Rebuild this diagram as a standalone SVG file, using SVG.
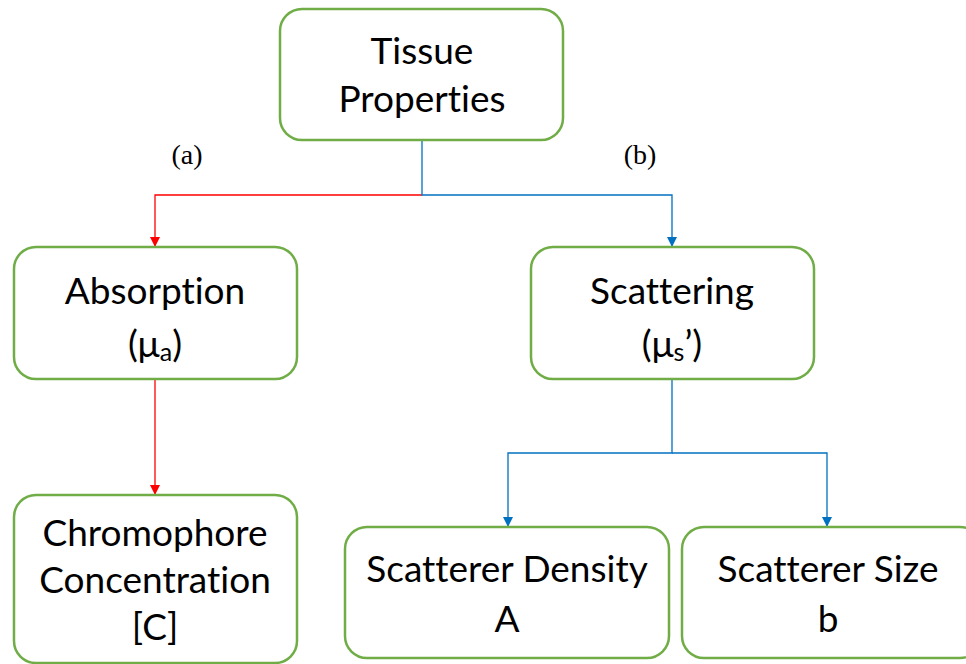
<svg xmlns="http://www.w3.org/2000/svg" width="966" height="664" viewBox="0 0 966 664">
<style>
.box{fill:#fff;stroke:#70AD47;stroke-width:2.5}
.t{font-family:Lato,"Open Sans","Liberation Sans",sans-serif;font-size:37px;fill:#000;text-anchor:middle;font-variant-ligatures:none;font-feature-settings:"liga" 0}
.lbl{font-family:"Liberation Serif",serif;font-size:28px;fill:#000;text-anchor:middle}
.red{stroke:#FF0000;stroke-width:1.3;fill:none}
.blue{stroke:#0070C0;stroke-width:1.3;fill:none}
</style>
<defs>
<marker id="ar" viewBox="0 0 10 10" refX="10" refY="5" markerWidth="10" markerHeight="10" markerUnits="userSpaceOnUse" orient="auto"><path d="M0,0 L10,5 L0,10 z" fill="#FF0000"/></marker>
<marker id="ab" viewBox="0 0 10 10" refX="10" refY="5" markerWidth="10" markerHeight="10" markerUnits="userSpaceOnUse" orient="auto"><path d="M0,0 L10,5 L0,10 z" fill="#0070C0"/></marker>
</defs>
<rect width="966" height="664" fill="#fff"/>
<g id="connectors">
<path class="red" d="M422,195 H155 V247" marker-end="url(#ar)"/>
<path class="blue" d="M422,140 V195 H672 V247" marker-end="url(#ab)"/>
<path class="red" d="M155,379 V495" marker-end="url(#ar)"/>
<path class="blue" d="M672,379 V453 H508 V527" marker-end="url(#ab)"/>
<path class="blue" d="M672,453 H827 V527" marker-end="url(#ab)"/>
</g>
<g id="tissue">
<rect class="box" x="280" y="9" width="283" height="131" rx="22"/>
<text class="t" x="422" y="64">Tissue</text>
<text class="t" x="422" y="112">Properties</text>
</g>
<g id="label-a"><text class="lbl" x="187" y="164">(a)</text></g>
<g id="label-b"><text class="lbl" x="640" y="164">(b)</text></g>
<g id="absorption">
<rect class="box" x="14" y="247" width="283" height="132" rx="22"/>
<text class="t" x="155" y="304">Absorption</text>
<text class="t" x="155" y="357">(μ<tspan font-size="25" dy="4">a</tspan><tspan dy="-4">)</tspan></text>
</g>
<g id="scattering">
<rect class="box" x="531" y="247" width="283" height="132" rx="22"/>
<text class="t" x="672" y="304">Scattering</text>
<text class="t" x="672" y="357">(μ<tspan font-size="25" dy="4">s</tspan><tspan dy="-4">’)</tspan></text>
</g>
<g id="chromophore">
<rect class="box" x="14" y="495" width="283" height="168" rx="22"/>
<text class="t" x="155" y="546">Chromophore</text>
<text class="t" x="155" y="593">Concentration</text>
<text class="t" x="155" y="640">[C]</text>
</g>
<g id="density">
<rect class="box" x="345" y="527" width="324" height="131" rx="22"/>
<text class="t" x="507" y="582">Scatterer Density</text>
<text class="t" x="507" y="632">A</text>
</g>
<g id="size">
<rect class="box" x="682" y="527" width="300" height="131" rx="22"/>
<text class="t" x="828" y="582">Scatterer Size</text>
<text class="t" x="828" y="632">b</text>
</g>
</svg>
